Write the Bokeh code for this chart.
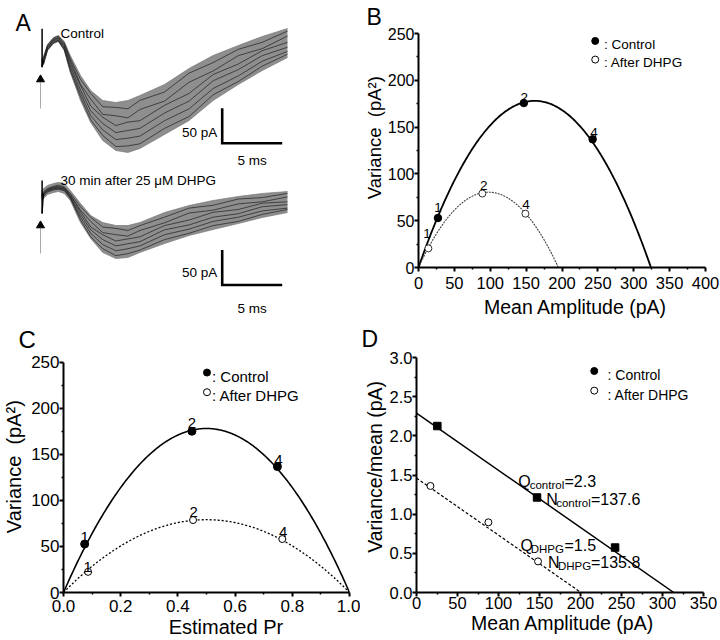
import numpy as np
from bokeh.plotting import figure
from bokeh.models import Range1d, FixedTicker, Label
from bokeh.layouts import row, column
from bokeh.embed import file_html
from bokeh.resources import INLINE
from bokeh.core.properties import value

FONT = "Liberation Sans"
NB = "\u00a0"

# ---------------- Panel A: overlaid EPSC traces (pA vs ms) ----------------
trace_time_ms = [0, 0.17, 0.5, 1.0, 1.4, 1.9, 2.4, 3.25, 4.1, 5.1, 6.2, 7.2, 8.2,
                 10.25, 12.3, 14.3, 16.4, 18.4, 20.5]
ctrl_env_upper = [2.9, 5.7, 22.9, 32.9, 35.7, 27.1, 7.1, -21.4, -42.9, -57.1, -60.0, -57.1,
                  -50.0, -34.3, -11.4, 7.1, 21.4, 34.3, 45.7]
ctrl_env_lower = [-8.6, -5.7, 14.3, 24.3, 27.1, 14.3, -17.1, -57.1, -88.6, -114.3, -128.6,
                  -131.4, -125.7, -105.7, -85.7, -57.1, -34.3, -14.3, 4.3]
ctrl_traces = [
    [1, 4, 22, 32, 35, 25, 3, -27, -47, -66, -67, -69, -57, -45, -18, -3, 16, 26, 42],
    [-1, 2, 20, 30, 33, 23, 0, -34, -55, -77, -79, -82, -70, -58, -31, -15, 7, 17, 35],
    [-2, 1, 19, 29, 32, 21, -4, -36, -65, -81, -93, -88, -86, -64, -47, -20, -5, 14, 26],
    [-4, -1, 18, 28, 30, 19, -8, -42, -72, -90, -103, -100, -97, -75, -58, -29, -13, 7, 19],
    [-6, -3, 16, 26, 29, 17, -12, -47, -79, -99, -113, -111, -108, -86, -69, -40, -22, -1, 13],
    [-7, -5, 15, 25, 28, 15, -15, -52, -85, -107, -123, -122, -119, -97, -80, -49, -30, -8, 9],
]
dhpg_env_upper = [7.1, 10, 14.3, 17.1, 18.6, 17.1, 7.1, -11.4, -28.6, -38.6, -42.9, -42.9,
                  -38.6, -24.3, -14.3, -7.1, -1.4, 2.9, 5.7]
dhpg_env_lower = [-7.1, -4.3, 1.4, 4.3, 5.7, 2.9, -7.1, -38.6, -61.4, -81.4, -90.0, -88.6,
                  -81.4, -68.6, -57.1, -48.6, -40.0, -31.4, -24.3]
dhpg_traces = [
    [3, 5, 10, 13, 15, 12, 3, -16, -31, -45, -47, -50, -43, -31, -18, -14, -5, -3, 3],
    [1, 4, 9, 12, 13, 11, 1, -21, -37, -53, -56, -58, -50, -39, -25, -21, -12, -9, -2],
    [0, 3, 8, 11, 12, 10, 0, -23, -45, -56, -65, -62, -59, -43, -35, -24, -20, -11, -9],
    [-1, 2, 7, 10, 11, 9, -2, -27, -49, -63, -72, -69, -66, -49, -42, -31, -26, -16, -13],
    [-2, 1, 6, 9, 10, 8, -3, -31, -54, -70, -79, -76, -72, -56, -48, -37, -31, -22, -18],
    [-4, -1, 5, 8, 9, 7, -4, -35, -59, -76, -86, -83, -78, -63, -54, -43, -37, -27, -20],
]
artifact_time_ms = 0.05
ctrl_artifact_pA = [45.3, -9.6]
dhpg_artifact_pA = [21.4, -25.7]
scale_bar_pA = 50
scale_bar_ms = 5

# ---------------- Panel B: variance vs mean amplitude ----------------
B_ctrl_mean = [27.1, 146.8, 242.7]
B_ctrl_var = [52.9, 175.7, 137.0]
B_dhpg_mean = [13.8, 89.0, 149.0]
B_dhpg_var = [20.4, 79.0, 57.5]
point_labels = ["1", "2", "4"]
B_ctrl_fit = dict(q=2.198, N=147.4)
B_dhpg_fit = dict(q=1.651, N=118.1)

# ---------------- Panel C: variance vs estimated Pr ----------------
C_ctrl_pr = [0.074, 0.449, 0.748]
C_ctrl_var = [52.6, 175.0, 136.6]
C_dhpg_pr = [0.086, 0.453, 0.765]
C_dhpg_var = [22.4, 78.6, 58.0]
C_ctrl_vmax = 178.0
C_dhpg_vmax = 79.0

# ---------------- Panel D: variance/mean vs mean amplitude ----------------
D_ctrl_mean = [25.4, 147.0, 242.2]
D_ctrl_ratio = [2.125, 1.213, 0.574]
D_dhpg_mean = [17.0, 87.7, 148.2]
D_dhpg_ratio = [1.36, 0.896, 0.397]
D_ctrl_fit = dict(q=2.29, N=137.0)
D_dhpg_fit = dict(q=1.46, N=137.4)

B_xticks = [0, 50, 100, 150, 200, 250, 300, 350, 400]
B_xlabels = ["0", "50", "100", "150", "200", "250", "300", "350", "400"]
B_yticks = [0, 50, 100, 150, 200, 250]
B_ylabels = ["0", "50", "100", "150", "200", "250"]
C_xticks = [0.0, 0.2, 0.4, 0.6, 0.8, 1.0]
C_xlabels = ["0.0", "0.2", "0.4", "0.6", "0.8", "1.0"]
D_xticks = [0, 50, 100, 150, 200, 250, 300, 350]
D_xlabels = ["0", "50", "100", "150", "200", "250", "300", "350"]
D_yticks = [0.0, 0.5, 1.0, 1.5, 2.0, 2.5, 3.0]
D_ylabels = ["0.0", "0.5", "1.0", "1.5", "2.0", "2.5", "3.0"]


def mapper(px0, px1, d0, d1):
    return lambda p: d0 + (p - px0) * (d1 - d0) / (px1 - px0)


def style(p, xt, xm, xl, yt, ym, yl, xfs, yfs, xlabel, ylabel, xlfs, ylfs,
          x_std=(4, 5), y_std=(0, 0)):
    p.grid.visible = False
    p.outline_line_color = None
    for ax, t, m, l, txt, std, fs, lfs in (
            (p.xaxis[0], xt, xm, xl, xlabel, x_std, xfs, xlfs),
            (p.yaxis[0], yt, ym, yl, ylabel, y_std, yfs, ylfs)):
        ax.ticker = FixedTicker(ticks=t, minor_ticks=m)
        ax.major_label_overrides = {tv: lb for tv, lb in zip(t, l)}
        ax.bounds = (t[0], t[-1])
        ax.axis_line_width = 2
        ax.axis_line_color = "black"
        ax.major_tick_line_width = 2
        ax.major_tick_line_color = "black"
        ax.major_tick_in = 0
        ax.major_tick_out = 4
        ax.minor_tick_line_width = 1.5
        ax.minor_tick_line_color = "black"
        ax.minor_tick_in = 0
        ax.minor_tick_out = 2
        ax.major_label_text_font = FONT
        ax.major_label_text_font_size = fs
        ax.major_label_text_color = "black"
        ax.major_label_standoff = std[0]
        ax.axis_label = txt
        ax.axis_label_text_font = FONT
        ax.axis_label_text_font_size = lfs
        ax.axis_label_text_font_style = "normal"
        ax.axis_label_text_color = "black"
        ax.axis_label_standoff = std[1]


def letter(p, text, offset, standoff, size="24px"):
    p.title.text = text
    p.title.align = "left"
    p.title.vertical_align = "top"
    p.title.offset = offset
    p.title.standoff = standoff
    p.title.text_font = FONT
    p.title.text_font_size = size
    p.title.text_font_style = "normal"
    p.title.text_color = "black"


def lab(p, x, y, text, size, align="left"):
    p.add_layout(Label(x=x, y=y, text=text, text_font=FONT, text_font_size=size,
                       text_align=align, text_baseline="alphabetic", text_color="black"))


def mids(ticks):
    return [(a + b) / 2 for a, b in zip(ticks[:-1], ticks[1:])]


# ====================== Panel A ======================
SPLIT = 168
ax_ = mapper(41, 53, 0, 1)            # reference px -> ms
ay1 = mapper(60, 95, 0, -50)          # reference px -> pA (top traces)
ay2 = mapper(195, 230, 0, -50)        # reference px -> pA (bottom traces)

pA1 = figure(width=360, height=SPLIT, x_range=Range1d(ax_(0), ax_(360)),
             y_range=Range1d(ay1(SPLIT), ay1(0)), output_backend="svg",
             toolbar_location=None, x_axis_location=None, y_axis_location=None,
             min_border=0)
pA2 = figure(width=360, height=320 - SPLIT, x_range=Range1d(ax_(0), ax_(360)),
             y_range=Range1d(ay2(320), ay2(SPLIT)), output_backend="svg",
             toolbar_location=None, x_axis_location=None, y_axis_location=None,
             min_border=0)

for p, up, lo, trs, art in (
        (pA1, ctrl_env_upper, ctrl_env_lower, ctrl_traces, ctrl_artifact_pA),
        (pA2, dhpg_env_upper, dhpg_env_lower, dhpg_traces, dhpg_artifact_pA)):
    p.grid.visible = False
    p.outline_line_color = None
    p.varea(x=trace_time_ms, y1=lo, y2=up, fill_color="#8e8e8e")
    p.line(trace_time_ms, up, line_color="#777777", line_width=0.7)
    p.line(trace_time_ms, lo, line_color="#777777", line_width=0.7)
    p.multi_line(xs=[trace_time_ms] * len(trs), ys=trs, line_color="#222222",
                 line_width=0.8, line_alpha=0.9)
    p.segment(x0=[artifact_time_ms], y0=[art[0]], x1=[artifact_time_ms], y1=[art[1]],
              line_color="black", line_width=1.5)
    p.segment(x0=[artifact_time_ms], y0=[art[1]], x1=[trace_time_ms[1]],
              y1=[(up[1] + lo[1]) / 2], line_color="black", line_width=1.2)

# stimulus arrows
pA1.segment(x0=[ax_(40)], y0=[ay1(82)], x1=[ax_(40)], y1=[ay1(108)], line_color="#aaaaaa", line_width=1)
pA1.scatter(x=[ax_(40)], y=[ay1(79)], marker="triangle", size=8, fill_color="black", line_color="black")
pA2.segment(x0=[ax_(40)], y0=[ay2(228)], x1=[ax_(40)], y1=[ay2(253)], line_color="#aaaaaa", line_width=1)
pA2.scatter(x=[ax_(40)], y=[ay2(225)], marker="triangle", size=8, fill_color="black", line_color="black")

# scale bars
for p, ay, corner_py, lbl50_py, lbl5_py in ((pA1, ay1, 142.8, 131.7, 160), (pA2, ay2, 284.5, 271.7, 308)):
    x0 = ax_(221.7)
    y0 = ay(corner_py)
    p.line([x0, x0, x0 + scale_bar_ms], [y0 + scale_bar_pA, y0, y0], line_color="black",
           line_width=2.6, line_join="miter")
    lab(p, ax_(216.7), ay(lbl50_py), "%d pA" % scale_bar_pA, "13.5px", align="right")
    lab(p, x0 + scale_bar_ms / 2, ay(lbl5_py), "%d ms" % scale_bar_ms, "13.5px", align="center")

lab(pA1, ax_(60), ay1(33), "Control", "13.5px")
lab(pA2, ax_(60), ay2(180), "30 min after 25 \u03bcM DHPG", "13.5px")
lab(pA1, ax_(15), ay1(22), "A", "23px")

# ====================== Panel B ======================
bx = mapper(414.3, 705.0, 0, 400)
by = mapper(266.7, 33.3, 0, 250)
pB = figure(width=360, height=320, x_range=Range1d(0, 400), y_range=Range1d(0, 250),
            output_backend="svg", toolbar_location=None,
            min_border_left=54, min_border_right=15, min_border_top=33, min_border_bottom=53)
style(pB, B_xticks, mids(B_xticks), B_xlabels, B_yticks, mids(B_yticks), B_ylabels,
      "16.5px", "16px",
      NB * 5 + "Mean Amplitude (pA)", NB * 5 + "Variance" + NB * 2 + "(pA\u00b2)",
      "19.5px", "18.5px", x_std=(5, 4), y_std=(0, 0))
letter(pB, "B", -52, 3, "23px")

for fit, dash, col, lw in ((B_ctrl_fit, "solid", "black", 1.8), (B_dhpg_fit, "2 1", "#444444", 1.1)):
    I = np.linspace(0, fit["q"] * fit["N"], 200)
    pB.line(I, fit["q"] * I - I ** 2 / fit["N"], line_color=col, line_width=lw, line_dash=dash)
pB.scatter(B_ctrl_mean, B_ctrl_var, marker="circle", size=7.5, fill_color="black", line_color="black")
pB.scatter(B_dhpg_mean, B_dhpg_var, marker="circle", size=7, fill_color="white", line_color="#333333", line_width=1)

dxB = 400 / 290.7
dyB = 250 / 233.3
B_ctrl_off = [(0, 10.6), (0.4, 6.0), (1.5, 7.0)]
B_dhpg_off = [(-1.3, 14.4), (1.3, 8.0), (0.6, 9.0)]
for xs, ys, offs in ((B_ctrl_mean, B_ctrl_var, B_ctrl_off), (B_dhpg_mean, B_dhpg_var, B_dhpg_off)):
    pB.text(x=[x + o[0] * dxB for x, o in zip(xs, offs)],
            y=[y + o[1] * dyB for y, o in zip(ys, offs)],
            text=point_labels, text_font=value(FONT), text_font_size="13.5px",
            text_align="center", text_baseline="alphabetic", text_color="black")

pB.scatter([bx(593.3)], [by(40.7)], marker="circle", size=7, fill_color="black", line_color="black")
pB.scatter([bx(593.3)], [by(59.3)], marker="circle", size=7, fill_color="white", line_color="black")
lab(pB, bx(602.3), by(44), ": Control", "13.5px")
lab(pB, bx(602.3), by(62), ": After DHPG", "13.5px")

# ====================== Panel C ======================
# C and D share the same top/bottom borders (frames in a row are aligned);
# C's range is extended slightly above 250 so its axis keeps the reference position.
ROW2_TOP = 37
ROW2_BOTTOM = 44
cx = mapper(62, 349, 0, 1)
cy = mapper(596, 361.7, 0, 250)
pC = figure(width=360, height=320, x_range=Range1d(0, 1), y_range=Range1d(0, cy(320 + ROW2_TOP)),
            output_backend="svg", toolbar_location=None,
            min_border_left=62, min_border_right=11, min_border_top=ROW2_TOP,
            min_border_bottom=ROW2_BOTTOM)
style(pC, C_xticks, mids(C_xticks), C_xlabels, B_yticks, mids(B_yticks), B_ylabels,
      "17px", "17px",
      NB * 7 + "Estimated Pr", NB * 3 + "Variance" + NB * 2 + "(pA\u00b2)",
      "20px", "20px", x_std=(3, 1), y_std=(0, 3))
letter(pC, "C", -45, 6, "24px")

pr = np.linspace(0, 1, 200)
pC.line(pr, 4 * C_ctrl_vmax * pr * (1 - pr), line_color="black", line_width=1.6)
pC.line(pr, 4 * C_dhpg_vmax * pr * (1 - pr), line_color="black", line_width=1.3, line_dash="2 2")
pC.scatter(C_ctrl_pr, C_ctrl_var, marker="circle", size=8, fill_color="black", line_color="black")
pC.scatter(C_dhpg_pr, C_dhpg_var, marker="circle", size=7, fill_color="white", line_color="black", line_width=1)

dxC = 1 / 287
dyC = 250 / 234.3
C_ctrl_off = [(0, 7.3), (0, 8.4), (1, 6.3)]
C_dhpg_off = [(-0.4, 5.0), (0.5, 8.0), (0.8, 7.4)]
for xs, ys, offs in ((C_ctrl_pr, C_ctrl_var, C_ctrl_off), (C_dhpg_pr, C_dhpg_var, C_dhpg_off)):
    pC.text(x=[x + o[0] * dxC for x, o in zip(xs, offs)],
            y=[y + o[1] * dyC for y, o in zip(ys, offs)],
            text=point_labels, text_font=value(FONT), text_font_size="15px",
            text_align="center", text_baseline="alphabetic", text_color="black")

pC.scatter([cx(206)], [cy(372.3)], marker="circle", size=7, fill_color="black", line_color="black")
pC.scatter([cx(206)], [cy(392.3)], marker="circle", size=7, fill_color="white", line_color="black")
lab(pC, cx(211), cy(376.5), ": Control", "15px")
lab(pC, cx(211), cy(396), ": After DHPG", "15px")

# ====================== Panel D ======================
dx = mapper(414.3, 703.3, 0, 350)
dy = mapper(640 - ROW2_BOTTOM, 320 + ROW2_TOP, 0, 3)
pD = figure(width=360, height=320, x_range=Range1d(0, 350), y_range=Range1d(0, 3),
            output_backend="svg", toolbar_location=None,
            min_border_left=54, min_border_right=17, min_border_top=ROW2_TOP,
            min_border_bottom=ROW2_BOTTOM)
style(pD, D_xticks, mids(D_xticks), D_xlabels, D_yticks, mids(D_yticks), D_ylabels,
      "16.5px", "16.5px",
      NB * 1 + "Mean Amplitude (pA)", NB * 3 + "Variance/mean (pA)",
      "19.5px", "19.5px", x_std=(0, 0), y_std=(0, 1))
letter(pD, "D", -55, 7, "23px")

for fit, dash, lw in ((D_ctrl_fit, "solid", 1.5), (D_dhpg_fit, "3 2", 1.2)):
    I = np.array([0, fit["q"] * fit["N"]])
    pD.line(I, fit["q"] - I / fit["N"], line_color="black", line_width=lw, line_dash=dash)
pD.scatter(D_ctrl_mean, D_ctrl_ratio, marker="square", size=7.5, fill_color="black", line_color="black")
pD.scatter(D_dhpg_mean, D_dhpg_ratio, marker="circle", size=7, fill_color="white", line_color="black", line_width=1)

pD.scatter([dx(593.3)], [dy(370.7)], marker="circle", size=7, fill_color="black", line_color="black")
pD.scatter([dx(593.3)], [dy(390.7)], marker="circle", size=7, fill_color="white", line_color="black")
lab(pD, dx(606.7), dy(375), ": Control", "14px")
lab(pD, dx(606.7), dy(395), ": After DHPG", "14px")

# fit annotations (main text + subscript)
annot = [
    ("Q", "control", "=%.1f" % 2.3, 516.7, 528.3, 563.3, 483.3),
    ("N", "control", "=%.1f" % 137.6, 545.0, 555.0, 590.0, 501.7),
    ("Q", "DHPG", "=%.1f" % 1.5, 519.0, 529.3, 563.3, 548.3),
    ("N", "DHPG", "=%.1f" % 135.8, 546.7, 556.7, 590.0, 565.7),
]
for main, sub, rest, x_main, x_sub, x_rest, base in annot:
    lab(pD, dx(x_main), dy(base), main, "16px")
    lab(pD, dx(x_sub), dy(base + 3), sub, "11.5px")
    lab(pD, dx(x_rest), dy(base), rest, "16px")

layout = column(row(column(pA1, pA2), pB), row(pC, pD))
open("out.html", "w").write(file_html(layout, INLINE))
